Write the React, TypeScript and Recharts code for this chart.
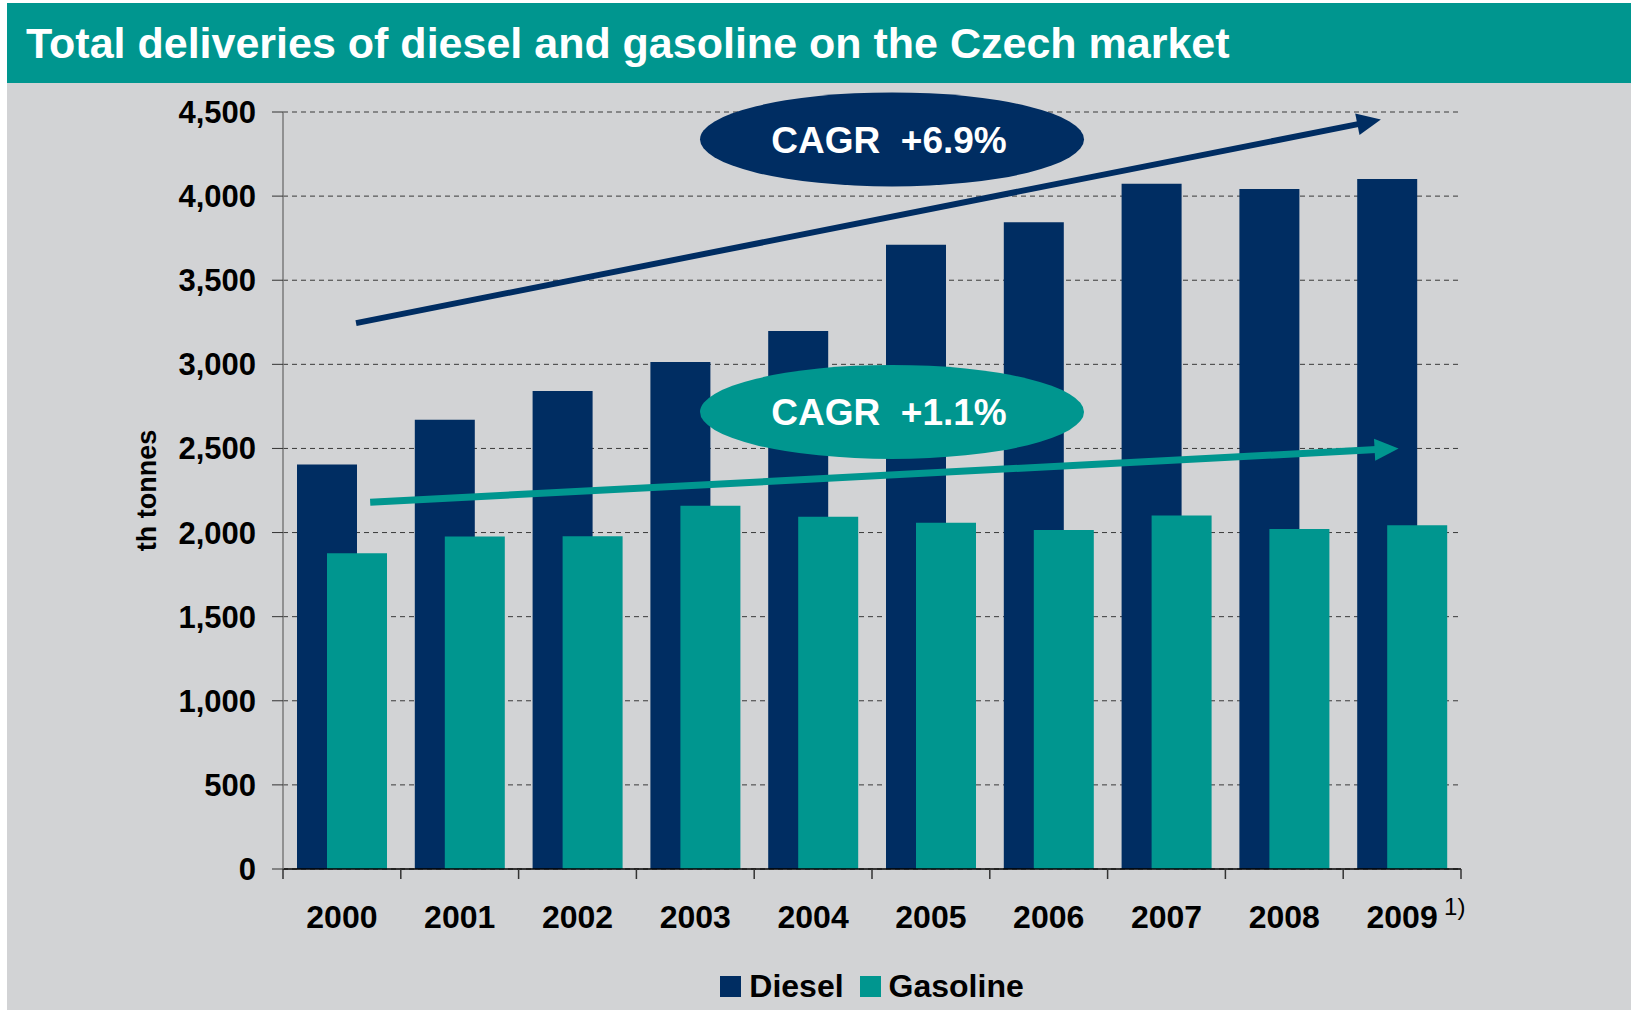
import React from "react";
import {
  BarChart,
  Bar,
  XAxis,
  YAxis,
  CartesianGrid,
  Legend,
  ReferenceLine,
} from "recharts";

const years = ["2000", "2001", "2002", "2003", "2004", "2005", "2006", "2007", "2008", "2009"];
const diesel = [2405, 2670, 2842, 3014, 3198, 3711, 3844, 4074, 4042, 4102];
const gasoline = [1877, 1976, 1978, 2160, 2094, 2059, 2015, 2102, 2021, 2043];
const yTicks = [0, 500, 1000, 1500, 2000, 2500, 3000, 3500, 4000, 4500];

// trend arrows: position in year steps from the 2000 bar centre, y in th tonnes
const dieselTrend = { from: 0.12, to: 8.82, y0: 3245, y1: 4455 };
const gasolineTrend = { from: 0.24, to: 8.97, y0: 2180, y1: 2500 };
const cagrBubbles = [
  { at: 4.67, y: 4337, text: "CAGR  +6.9%", color: "#002D62" },
  { at: 4.67, y: 2717, text: "CAGR  +1.1%", color: "#00968F" },
];

const NAVY = "#002D62";
const TEAL = "#00968F";
const BG = "#D2D3D5";
const FONT = '"Liberation Sans", Arial, Helvetica, sans-serif';

const data = years.map((year, i) => ({
  year,
  diesel: diesel[i],
  gasoline: gasoline[i],
}));

const firstYear = years[0];
const lastYear = years[years.length - 1];

function Arrow(props: any) {
  const { x1, y1, x2, y2, trend, color, thickness } = props;
  const unit = (x2 - x1) / (years.length - 1);
  const sx = x1 + trend.from * unit;
  const ex = x1 + trend.to * unit;
  const dx = ex - sx;
  const dy = y2 - y1;
  const len = Math.sqrt(dx * dx + dy * dy);
  const ux = dx / len;
  const uy = dy / len;
  const headLen = 24;
  const headHalf = 11;
  const bx = ex - ux * headLen;
  const by = y2 - uy * headLen;
  const pts = [
    [ex, y2],
    [bx - uy * headHalf, by + ux * headHalf],
    [bx + uy * headHalf, by - ux * headHalf],
  ]
    .map((p) => p.join(","))
    .join(" ");
  return (
    <g>
      <line x1={sx} y1={y1} x2={bx + ux * 2} y2={by + uy * 2} stroke={color} strokeWidth={thickness} />
      <polygon points={pts} fill={color} />
    </g>
  );
}

function Bubble(props: any) {
  const { x1, x2, y1, at, color, text } = props;
  const unit = (x2 - x1) / (years.length - 1);
  const cx = x1 + at * unit;
  return (
    <g>
      <ellipse cx={cx} cy={y1} rx={192} ry={47} fill={color} />
      <text
        x={cx - 3}
        y={y1}
        dy="0.36em"
        textAnchor="middle"
        fill="#fff"
        fontSize={37}
        fontWeight="bold"
        fontFamily={FONT}
        style={{ whiteSpace: "pre" }}
      >
        {text}
      </text>
    </g>
  );
}

const TICK_MARGIN = 36;

function YearTick(props: any) {
  const { x, y, payload, width, visibleTicksCount, index } = props;
  const band = width / (visibleTicksCount || years.length);
  const axisY = y - TICK_MARGIN;
  return (
    <g>
      <line x1={x - band / 2} y1={axisY} x2={x - band / 2} y2={axisY + 10} stroke="#333" strokeWidth={1.5} />
      {index === years.length - 1 && (
        <line x1={x + band / 2} y1={axisY} x2={x + band / 2} y2={axisY + 10} stroke="#333" strokeWidth={1.5} />
      )}
      <text
        x={x}
        y={y}
        dy="0.71em"
        textAnchor="middle"
        fill="#000"
        fontSize={32}
        fontWeight="bold"
        fontFamily={FONT}
      >
        {payload.value}
      </text>
      {payload.value === lastYear && (
        <text x={x + 42} y={y + 10} fill="#000" fontSize={24} fontFamily={FONT}>
          1)
        </text>
      )}
    </g>
  );
}

function LegendContent() {
  const items = [
    { label: "Diesel", color: NAVY },
    { label: "Gasoline", color: TEAL },
  ];
  return (
    <div style={{ display: "flex", justifyContent: "center", alignItems: "center", gap: 16 }}>
      {items.map((it) => (
        <div key={it.label} style={{ display: "flex", alignItems: "center", gap: 8 }}>
          <span style={{ width: 21, height: 21, background: it.color, display: "inline-block" }} />
          <span style={{ fontSize: 32, fontWeight: "bold", fontFamily: FONT, color: "#000", lineHeight: "36px" }}>
            {it.label}
          </span>
        </div>
      ))}
    </div>
  );
}

export default function App() {
  return (
    <div style={{ marginLeft: 7, marginTop: 3, width: 1624, height: 1007, background: BG, fontFamily: FONT }}>
      <style>{"body{margin:0}"}</style>
      <div
        style={{
          height: 80,
          background: TEAL,
          color: "#fff",
          fontSize: 43,
          fontWeight: "bold",
          lineHeight: "80px",
          paddingLeft: 19,
          whiteSpace: "nowrap",
        }}
      >
        Total deliveries of diesel and gasoline on the Czech market
      </div>
      <BarChart
        width={1624}
        height={927}
        data={data}
        margin={{ top: 29, right: 170, left: 0, bottom: 81 }}
        barSize={60}
        barGap={-30}
      >
        <CartesianGrid vertical={false} stroke="#3a3a3a" strokeDasharray="5 4" />
        <XAxis
          dataKey="year"
          height={60}
          tickSize={0}
          tickMargin={TICK_MARGIN}
          tickLine={false}
          tick={<YearTick />}
          axisLine={{ stroke: "#000", strokeWidth: 1.5 }}
          interval={0}
        />
        <YAxis
          width={276}
          domain={[0, 4500]}
          ticks={yTicks}
          interval={0}
          tickSize={11}
          tickMargin={16}
          tickFormatter={(v: number) => v.toLocaleString("en-US")}
          tick={{ fill: "#000", fontSize: 31, fontWeight: "bold", fontFamily: FONT }}
          tickLine={{ stroke: "#333" }}
          axisLine={{ stroke: "#7a7a7a", strokeWidth: 1.5 }}
          label={{
            content: (p: any) => {
              const vb = p.viewBox;
              const cx = vb.x + 139;
              const cy = vb.y + vb.height / 2;
              return (
                <text
                  x={cx}
                  y={cy}
                  dy="0.36em"
                  textAnchor="middle"
                  transform={`rotate(-90 ${cx} ${cy})`}
                  fill="#000"
                  fontSize={27}
                  fontWeight="bold"
                  fontFamily={FONT}
                >
                  th tonnes
                </text>
              );
            },
          }}
        />
        <Legend
          verticalAlign="middle"
          layout="horizontal"
          content={<LegendContent />}
          wrapperStyle={{ top: 885, left: 276, width: 1178, bottom: "auto", right: "auto" }}
        />
        <Bar dataKey="diesel" name="Diesel" fill={NAVY} isAnimationActive={false} />
        <Bar dataKey="gasoline" name="Gasoline" fill={TEAL} isAnimationActive={false} />
        <ReferenceLine
          segment={[
            { x: firstYear, y: dieselTrend.y0 },
            { x: lastYear, y: dieselTrend.y1 },
          ]}
          ifOverflow="visible"
          shape={(p: any) => <Arrow {...p} trend={dieselTrend} color={NAVY} thickness={6} />}
        />
        <ReferenceLine
          segment={[
            { x: firstYear, y: gasolineTrend.y0 },
            { x: lastYear, y: gasolineTrend.y1 },
          ]}
          ifOverflow="visible"
          shape={(p: any) => <Arrow {...p} trend={gasolineTrend} color={TEAL} thickness={7} />}
        />
        {cagrBubbles.map((b) => (
          <ReferenceLine
            key={b.text}
            segment={[
              { x: firstYear, y: b.y },
              { x: lastYear, y: b.y },
            ]}
            ifOverflow="visible"
            shape={(p: any) => <Bubble {...p} at={b.at} color={b.color} text={b.text} />}
          />
        ))}
      </BarChart>
    </div>
  );
}
